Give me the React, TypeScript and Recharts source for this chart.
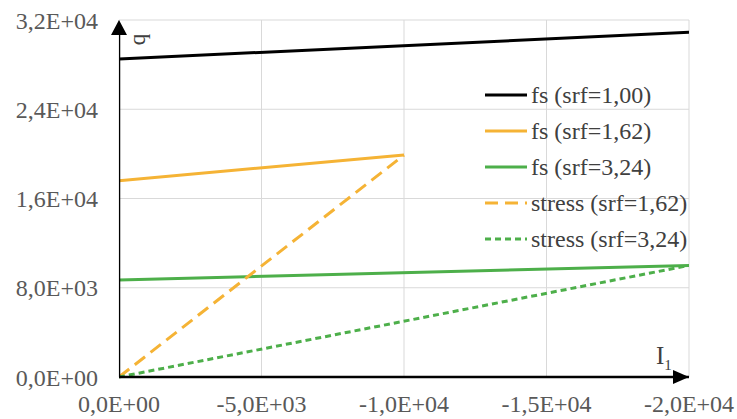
import React from "react";
import {
  LineChart,
  Line,
  XAxis,
  YAxis,
  CartesianGrid,
  ReferenceDot,
} from "recharts";

// Failure-surface and stress-path points (I1, q)
const fsSrf100 = [
  { i1: 0, q: 28500 },
  { i1: -20000, q: 30900 },
];
const fsSrf162 = [
  { i1: 0, q: 17600 },
  { i1: -10000, q: 19900 },
];
const fsSrf324 = [
  { i1: 0, q: 8700 },
  { i1: -20000, q: 10000 },
];
const stressSrf162 = [
  { i1: 0, q: 0 },
  { i1: -10000, q: 19900 },
];
const stressSrf324 = [
  { i1: 0, q: 0 },
  { i1: -20000, q: 10000 },
];

const seriesNames = [
  "fs (srf=1,00)",
  "fs (srf=1,62)",
  "fs (srf=3,24)",
  "stress (srf=1,62)",
  "stress (srf=3,24)",
];
const seriesColors = ["#000000", "#F5B335", "#4DAF4A", "#F5B335", "#4DAF4A"];
const seriesDash = ["", "", "", "13 7", "6 4"];
const seriesData = [fsSrf100, fsSrf162, fsSrf324, stressSrf162, stressSrf324];

const xTicks = [0, -5000, -10000, -15000, -20000];
const xTickLabels = ["0,0E+00", "-5,0E+03", "-1,0E+04", "-1,5E+04", "-2,0E+04"];
const yTicks = [0, 8000, 16000, 24000, 32000];
const yTickLabels = ["0,0E+00", "8,0E+03", "1,6E+04", "2,4E+04", "3,2E+04"];

const FONT = "Liberation Serif, Times New Roman, DejaVu Serif, serif";
const TICK_COLOR = "#595959";

const xLabel = (v: number) => xTickLabels[xTicks.indexOf(v)] ?? String(v);
const yLabel = (v: number) => yTickLabels[yTicks.indexOf(v)] ?? String(v);

// Arrowhead at the tip of the vertical axis
const UpArrow = (props: any) => {
  const { cx, cy } = props;
  return (
    <polygon
      points={`${cx},${cy} ${cx - 8},${cy + 15} ${cx + 8},${cy + 15}`}
      fill="#000"
    />
  );
};

// Arrowhead at the tip of the horizontal axis
const RightArrow = (props: any) => {
  const { cx, cy } = props;
  return (
    <polygon
      points={`${cx},${cy} ${cx - 16},${cy - 7} ${cx - 16},${cy + 7}`}
      fill="#000"
    />
  );
};

const LegendBox = () => (
  <div
    style={{
      position: "absolute",
      left: 485,
      top: 77,
      fontFamily: FONT,
      fontSize: 24,
      color: "#404040",
    }}
  >
    {seriesNames.map((name, i) => (
      <div
        key={name}
        style={{ display: "flex", alignItems: "center", height: 36, whiteSpace: "nowrap" }}
      >
        <svg width={44} height={10} style={{ marginRight: 2 }}>
          <line
            x1={0}
            y1={5}
            x2={42}
            y2={5}
            stroke={seriesColors[i]}
            strokeWidth={3}
            strokeDasharray={seriesDash[i] || undefined}
          />
        </svg>
        <span>{name}</span>
      </div>
    ))}
  </div>
);

export default function App() {
  return (
    <div style={{ position: "absolute", left: 0, top: 0, width: 737, height: 419, background: "#fff" }}>
      <LineChart
        width={737}
        height={419}
        margin={{ top: 20, right: 48, left: 0, bottom: 0 }}
      >
        <CartesianGrid stroke="#D9D9D9" strokeWidth={1} fill="none" />
        <XAxis
          dataKey="i1"
          type="number"
          domain={[-20000, 0]}
          reversed
          ticks={xTicks}
          tickFormatter={xLabel}
          axisLine={false}
          tickLine={false}
          tickSize={0}
          tickMargin={18}
          height={42}
          interval={0}
          tick={{ fill: TICK_COLOR, fontSize: 24, fontFamily: FONT }}
          allowDataOverflow
        />
        <YAxis
          type="number"
          domain={[0, 32000]}
          ticks={yTicks}
          tickFormatter={yLabel}
          axisLine={false}
          tickLine={false}
          tickSize={0}
          tickMargin={21}
          width={119}
          interval={0}
          tick={{ fill: TICK_COLOR, fontSize: 24, fontFamily: FONT }}
        />
        {seriesData.map((d, i) => (
          <Line
            key={seriesNames[i]}
            data={d}
            dataKey="q"
            name={seriesNames[i]}
            stroke={seriesColors[i]}
            strokeWidth={3}
            strokeDasharray={seriesDash[i] || undefined}
            dot={false}
            activeDot={false}
            isAnimationActive={false}
          />
        ))}
        {/* Axis lines with arrowheads */}
        <Line
          data={[{ i1: 0, q: 0 }, { i1: -20000, q: 0 }]}
          dataKey="q"
          stroke="#000"
          strokeWidth={2.5}
          dot={false}
          activeDot={false}
          legendType="none"
          isAnimationActive={false}
        />
        <Line
          data={[{ i1: 0, q: 0 }, { i1: 0, q: 31000 }]}
          dataKey="q"
          stroke="#000"
          strokeWidth={2.5}
          dot={false}
          activeDot={false}
          legendType="none"
          isAnimationActive={false}
        />
        <ReferenceDot x={0} y={32000} r={1} ifOverflow="visible" shape={UpArrow} />
        <ReferenceDot x={-20000} y={0} r={1} ifOverflow="visible" shape={RightArrow} />
      </LineChart>
      <LegendBox />
      <div
        style={{
          position: "absolute",
          left: 132,
          top: 28,
          fontFamily: FONT,
          fontSize: 23,
          color: "#404040",
          transform: "rotate(-90deg)",
          lineHeight: 1,
        }}
      >
        q
      </div>
      <div
        style={{
          position: "absolute",
          left: 656,
          top: 343,
          fontFamily: FONT,
          fontSize: 25,
          color: "#404040",
          lineHeight: 1,
        }}
      >
        I<sub style={{ fontSize: 15, verticalAlign: -6 }}>1</sub>
      </div>
    </div>
  );
}
